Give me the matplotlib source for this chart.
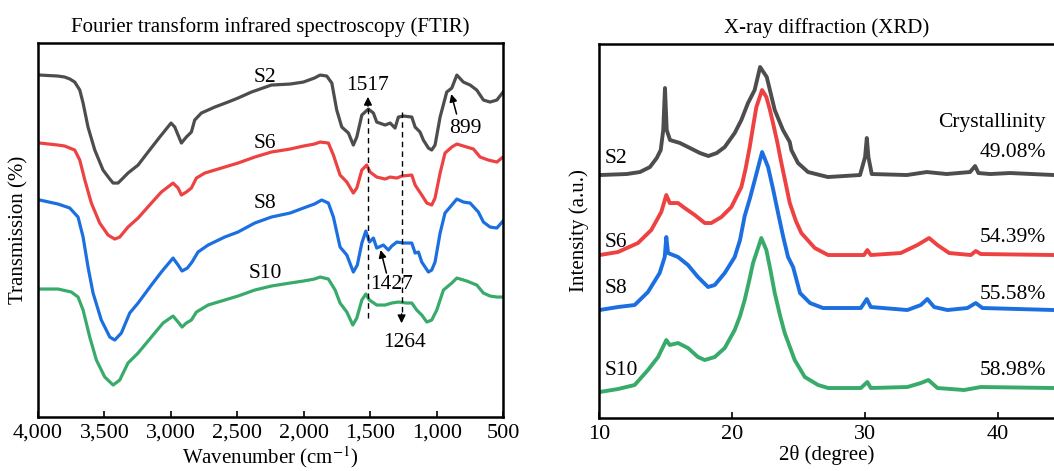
import matplotlib.pyplot as plt

plt.rcParams['font.family'] = ['Liberation Serif', 'DejaVu Serif']
plt.rcParams['mathtext.fontset'] = 'stix'
plt.rcParams['font.size'] = 15

# FTIR, wavenumber (cm-1) vs transmission (offset, a.u.)
s2_wn = [3987, 3850, 3799, 3760, 3724, 3686, 3661, 3624, 3573, 3511, 3460, 3435, 3398, 3360, 3323, 3247, 3172,
         3084, 2999, 2971, 2921, 2884, 2846, 2821, 2771, 2670, 2570, 2495, 2394, 2244, 2103, 2003, 1920,
         1877, 1827, 1789, 1752, 1714, 1664, 1627, 1601, 1563, 1514, 1476, 1451, 1388, 1350, 1313, 1288,
         1250, 1187, 1162, 1125, 1100, 1062, 1037, 1012, 974, 924, 886, 848, 799, 748, 698, 648, 598, 547, 500]
s2_t = [342, 341, 340, 338, 335, 327, 314, 290, 267, 247, 238, 234, 234, 239, 244, 252, 265,
        280, 294, 290, 274, 280, 285, 297, 304, 310, 315, 319, 325, 332, 333, 335, 339,
        342, 341, 334, 307, 290, 284, 272, 280, 302, 308, 304, 295, 292, 294, 289, 300,
        301, 300, 290, 285, 277, 269, 267, 272, 300, 325, 329, 342, 335, 332, 327, 317, 315, 317, 325]

s6_wn = [3987, 3850, 3799, 3724, 3686, 3648, 3599, 3536, 3473, 3423, 3385, 3323, 3247, 3147, 3072, 2984, 2946,
         2921, 2884, 2846, 2808, 2745, 2620, 2495, 2369, 2244, 2103, 2003, 1920, 1877, 1815, 1777, 1727, 1676,
         1627, 1601, 1563, 1526, 1501, 1451, 1388, 1350, 1300, 1262, 1187, 1162, 1137, 1112, 1074, 1037,
         1012, 974, 937, 886, 848, 773, 723, 673, 611, 547, 500]
s6_t = [274, 272, 271, 267, 257, 237, 214, 194, 182, 178, 180, 190, 199, 214, 225, 234, 229,
        222, 225, 229, 239, 244, 249, 254, 260, 265, 268, 271, 273, 275, 274, 262, 242, 235,
        224, 229, 247, 252, 245, 240, 238, 240, 239, 241, 242, 232, 227, 222, 214, 212,
        219, 244, 264, 270, 273, 270, 268, 260, 257, 255, 260]

s8_wn = [3987, 3849, 3761, 3699, 3661, 3624, 3586, 3524, 3460, 3423, 3373, 3310, 3247, 3147, 3072, 2984,
         2946, 2916, 2876, 2841, 2796, 2720, 2595, 2495, 2369, 2244, 2103, 2003, 1920, 1865, 1815, 1777, 1727,
         1676, 1627, 1597, 1563, 1533, 1506, 1476, 1451, 1401, 1363, 1338, 1300, 1250, 1187, 1162, 1137,
         1112, 1087, 1062, 1037, 1012, 974, 937, 886, 848, 799, 748, 686, 648, 598, 547, 500]
s8_t = [217, 213, 209, 200, 180, 150, 124, 97, 80, 77, 84, 104, 114, 132, 145, 159,
        152, 146, 149, 155, 165, 172, 180, 185, 194, 200, 204, 209, 213, 217, 214, 200, 170,
        162, 145, 152, 174, 186, 175, 179, 169, 172, 167, 171, 175, 174, 174, 164, 165,
        155, 150, 145, 147, 155, 184, 204, 212, 218, 215, 214, 205, 195, 190, 189, 196]

s10_wn = [3987, 3849, 3749, 3699, 3661, 3611, 3561, 3498, 3435, 3385, 3323, 3247, 3147, 3059, 2984, 2946,
          2916, 2884, 2846, 2808, 2720, 2595, 2495, 2369, 2244, 2103, 2003, 1920, 1877, 1815, 1764, 1727, 1676,
          1631, 1601, 1563, 1533, 1506, 1451, 1388, 1338, 1288, 1225, 1187, 1150, 1112, 1074, 1037, 999,
          949, 886, 848, 773, 698, 648, 598, 547, 500]
s10_t = [128, 128, 125, 120, 107, 80, 57, 40, 32, 37, 54, 64, 80, 94, 101, 95,
         90, 94, 97, 105, 112, 117, 121, 127, 131, 134, 136, 138, 140, 138, 127, 114, 105,
         92, 99, 117, 123, 117, 112, 112, 114, 115, 114, 114, 107, 102, 95, 97, 107,
         127, 134, 139, 136, 132, 124, 121, 120, 120]

ftir_ticks = [4000, 3500, 3000, 2500, 2000, 1500, 1000, 500]
ftir_ticklabels = ['4,000', '3,500', '3,000', '2,500', '2,000', '1,500', '1,000', '500']

# XRD, 2theta (degree) vs intensity (offset, a.u.)
x2_tt = [10.08, 12.08, 13.08, 13.83, 14.34, 14.64, 14.83, 14.96, 15.09, 15.34, 16.09, 16.84, 17.59, 18.22,
         18.85, 19.45, 20.2, 20.7, 21.2, 21.7, 22.11, 22.61, 23.21, 23.83, 24.34, 24.46, 24.96, 25.71,
         27.2, 29.62, 30.0, 30.13, 30.25, 30.5, 33.14, 34.64, 35.38, 36.14, 37.89, 38.27, 38.52, 39.4,
         40.9, 44.2]
x2_i = [243, 244, 246, 251, 260, 268, 288, 330, 288, 278, 275, 270, 265, 262,
        265, 271, 285, 298, 315, 328, 351, 341, 308, 288, 276, 268, 255, 246,
        241, 243, 261, 280, 261, 244, 243, 246, 245, 244, 246, 252, 245, 244,
        245, 243]

x6_tt = [10.05, 11.43, 12.93, 13.93, 14.68, 15.06, 15.32, 15.94, 16.44, 17.2, 17.95, 18.44, 19.2, 19.95,
         20.7, 21.0, 21.33, 21.6, 21.83, 22.26, 22.58, 22.85, 23.08, 23.4, 23.71, 24.34, 24.8, 25.21, 26.22,
         27.22, 29.92, 30.17, 30.43, 32.68, 33.93, 34.81, 35.44, 36.32, 37.95, 38.32, 38.7, 44.2]
x6_i = [163, 166, 175, 188, 206, 223, 215, 215, 210, 203, 195, 195, 201, 211,
        231, 248, 271, 293, 311, 328, 321, 308, 295, 276, 255, 215, 197, 185, 170,
        163, 163, 168, 163, 165, 173, 180, 173, 165, 163, 167, 164, 163]

x8_tt = [10.05, 11.43, 12.68, 13.68, 14.56, 14.94, 15.06, 15.19, 15.94, 16.69, 17.44, 18.2, 18.7, 19.45,
         20.2, 20.6, 20.95, 21.35, 21.71, 22.26, 22.71, 23.1, 23.46, 23.85, 24.21, 24.59, 25.11, 25.86,
         26.84, 29.68, 30.13, 30.43, 33.18, 34.19, 34.68, 35.19, 36.19, 37.69, 38.32, 38.82, 44.2]
x8_i = [108, 111, 113, 126, 145, 161, 181, 165, 161, 153, 141, 131, 133, 145,
        161, 178, 202, 220, 238, 266, 251, 228, 205, 181, 161, 151, 125, 115,
        110, 110, 119, 111, 108, 113, 119, 111, 108, 110, 115, 110, 108]

x10_tt = [10.05, 11.43, 12.68, 13.68, 14.44, 15.06, 15.32, 15.94, 16.69, 17.44, 17.95, 18.7, 19.45, 20.2,
          20.6, 20.95, 21.3, 21.58, 22.2, 22.58, 22.9, 23.21, 23.6, 23.96, 24.71, 25.47, 26.47, 27.22,
          29.68, 30.17, 30.43, 33.18, 34.19, 34.76, 35.44, 37.44, 38.7, 44.2]
x10_i = [26, 29, 33, 48, 61, 78, 73, 75, 70, 61, 58, 61, 70, 88,
         102, 118, 138, 155, 180, 168, 147, 125, 103, 85, 58, 41, 33, 30,
         30, 36, 30, 31, 35, 38, 30, 28, 31, 30]

crystallinity = ['49.08%', '54.39%', '55.58%', '58.98%']
samples = ['S2', 'S6', 'S8', 'S10']
colors = ['#4d4d4d', '#ee4242', '#1c6fe0', '#38ab6a']

fig = plt.figure(figsize=(10.54, 4.71), dpi=100)
ax1 = fig.add_axes([0.0361, 0.1146, 0.4412, 0.794])
ax2 = fig.add_axes([0.5683, 0.1125, 0.4317, 0.794])

# ---- FTIR ----
for wn, t, c in zip([s2_wn, s6_wn, s8_wn, s10_wn], [s2_t, s6_t, s8_t, s10_t], colors):
    ax1.plot(wn, t, color=c, lw=2.3, solid_joinstyle='round')

for name, yy in zip(samples, [340, 274, 214, 144]):
    ax1.text(2291, yy, name, ha='center', va='center', fontsize=15.5)

# dashed guide lines with arrow heads
ax1.plot([1517, 1517], [99, 312], color='k', lw=1, ls=(0, (4, 3)))
ax1.annotate('', xy=(1517, 323), xytext=(1517, 308),
             arrowprops=dict(arrowstyle='-|>', color='k', lw=1, mutation_scale=12))
ax1.plot([1264, 1264], [305, 102], color='k', lw=1, ls=(0, (4, 3)))
ax1.annotate('', xy=(1264, 91), xytext=(1264, 106),
             arrowprops=dict(arrowstyle='-|>', color='k', lw=1, mutation_scale=12))
ax1.text(1517, 332, '1517', ha='center', va='center', fontsize=15.5)
ax1.text(1238, 75, '1264', ha='center', va='center', fontsize=15.5)

ax1.text(1338, 133, '1427', ha='center', va='center', fontsize=15.5)
ax1.annotate('', xy=(1422, 167), xytext=(1378, 144),
             arrowprops=dict(arrowstyle='-|>', color='k', lw=1.1, mutation_scale=11,
                             shrinkA=0, shrinkB=0))
ax1.text(786, 289, '899', ha='center', va='center', fontsize=15.5)
ax1.annotate('', xy=(890, 323), xytext=(850, 303),
             arrowprops=dict(arrowstyle='-|>', color='k', lw=1.1, mutation_scale=11,
                             shrinkA=0, shrinkB=0))

ax1.set_xlim(4000, 500)
ax1.set_ylim(0, 374)
ax1.set_xticks(ftir_ticks)
ax1.set_xticklabels(ftir_ticklabels)
ax1.set_yticks([])
ax1.tick_params(axis='x', direction='in', length=4, width=1.2, pad=5, labelsize=16)
for s in ax1.spines.values():
    s.set_linewidth(1.8)
ax1.set_xlabel('Wavenumber (cm$^{-1}$)', labelpad=1)
ax1.set_ylabel('Transmission (%)', labelpad=7)
ax1.set_title('Fourier transform infrared spectroscopy (FTIR)', fontsize=15, pad=8)

# ---- XRD ----
for tt, ii, c in zip([x2_tt, x6_tt, x8_tt, x10_tt], [x2_i, x6_i, x8_i, x10_i], colors):
    ax2.plot(tt, ii, color=c, lw=2.8, solid_joinstyle='round')

for name, yy in zip(samples, [260, 176, 130, 48]):
    ax2.text(10.4, yy, name, ha='left', va='center', fontsize=15.5)
ax2.text(43.6, 296, 'Crystallinity', ha='right', va='center', fontsize=15.5)
for lab, yy in zip(crystallinity, [266, 181, 124, 48]):
    ax2.text(43.6, yy, lab, ha='right', va='center', fontsize=15.5)

ax2.set_xlim(10, 44.2)
ax2.set_ylim(0, 374)
ax2.set_xticks([10, 20, 30, 40])
ax2.set_yticks([])
ax2.tick_params(axis='x', direction='in', length=4, width=1.2, pad=5, labelsize=16)
for s in ax2.spines.values():
    s.set_linewidth(1.8)
ax2.spines['right'].set_visible(False)
ax2.set_xlabel('2θ (degree)', labelpad=1)
ax2.set_ylabel('Intensity (a.u.)', labelpad=7)
ax2.set_title('X-ray diffraction (XRD)', fontsize=15, pad=8)

fig.savefig('out.png', dpi=100)
